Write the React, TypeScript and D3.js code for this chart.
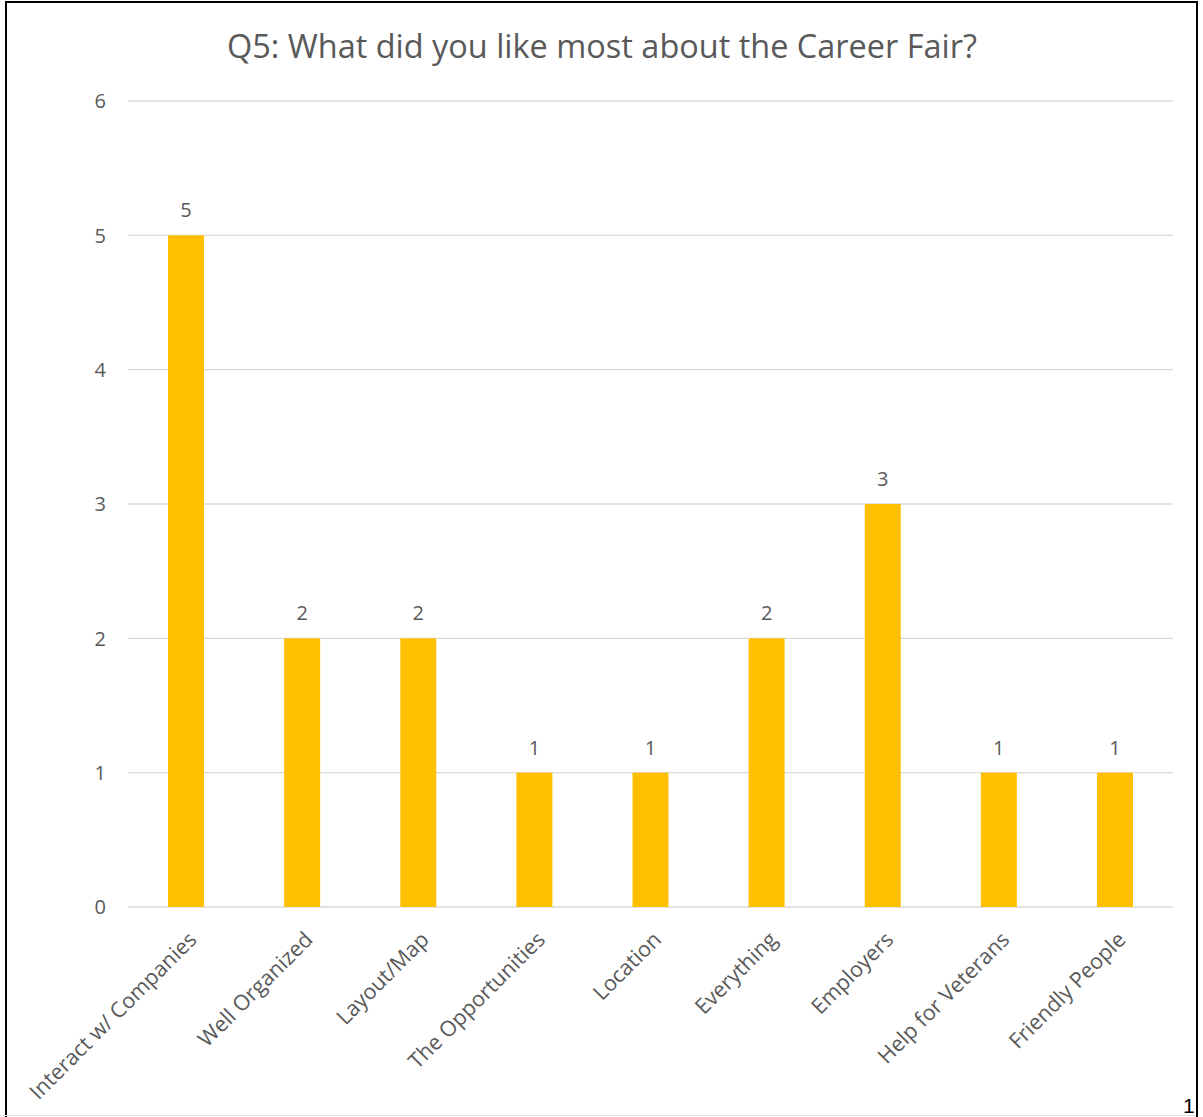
import React from "react";
import * as d3 from "d3";

const categories = [
  "Interact w/ Companies",
  "Well Organized",
  "Layout/Map",
  "The Opportunities",
  "Location",
  "Everything",
  "Employers",
  "Help for Veterans",
  "Friendly People",
];
const values = [5, 2, 2, 1, 1, 2, 3, 1, 1];
const yTicks = [0, 1, 2, 3, 4, 5, 6];
const title = "Q5: What did you like most about the Career Fair?";

const W = 1203;
const H = 1117;
const plot = { left: 128, right: 1173, top: 101, bottom: 907 };
const FONT = "'Open Sans', 'DejaVu Sans', sans-serif";
const TEXT = "#595959";

export default function App() {
  const x = d3
    .scaleBand<string>()
    .domain(categories)
    .range([plot.left, plot.right])
    .paddingInner(0.69)
    .paddingOuter(0.345);
  const y = d3.scaleLinear().domain([0, 6]).range([plot.bottom, plot.top]);

  return (
    <svg
      width={W}
      height={H}
      style={{ position: "absolute", left: 0, top: 0, background: "#fff" }}
    >
      <rect x={0} y={0} width={W} height={H} fill="#fff" />
      <rect x={6} y={2} width={1191} height={1300} fill="none" stroke="#000" strokeWidth={2} />
      <line x1={0} x2={1196} y1={1115.5} y2={1115.5} stroke="#e0e0e0" strokeWidth={1} />
      <text
        x={1183}
        y={1113}
        fontFamily="'Liberation Sans', Arial, sans-serif"
        fontSize={21}
        fill="#000"
      >
        1
      </text>

      <text
        x={602}
        y={58}
        textAnchor="middle"
        fontFamily={FONT}
        fontSize={33}
        fill={TEXT}
        textLength={750}
        lengthAdjust="spacingAndGlyphs"
      >
        {title}
      </text>

      {yTicks.map((t) => (
        <g key={t}>
          <line
            x1={plot.left}
            x2={plot.right}
            y1={y(t)}
            y2={y(t)}
            stroke="#d9d9d9"
            strokeWidth={1.3}
          />
          <text
            x={106}
            y={y(t)}
            dy="0.36em"
            textAnchor="end"
            fontFamily={FONT}
            fontSize={20}
            fill={TEXT}
          >
            {t}
          </text>
        </g>
      ))}

      {categories.map((c, i) => {
        const bx = x(c)!;
        const bw = x.bandwidth();
        const cx = bx + bw / 2;
        return (
          <g key={c}>
            <rect
              x={bx}
              y={y(values[i])}
              width={bw}
              height={y(0) - y(values[i])}
              fill="#ffc000"
            />
            <text
              x={cx}
              y={y(values[i]) - 18}
              textAnchor="middle"
              fontFamily={FONT}
              fontSize={20}
              fill={TEXT}
            >
              {values[i]}
            </text>
            <text
              transform={`translate(${cx + 12},${941}) rotate(-45)`}
              textAnchor="end"
              fontFamily={FONT}
              fontSize={21.5}
              fill={TEXT}
            >
              {c}
            </text>
          </g>
        );
      })}
    </svg>
  );
}
